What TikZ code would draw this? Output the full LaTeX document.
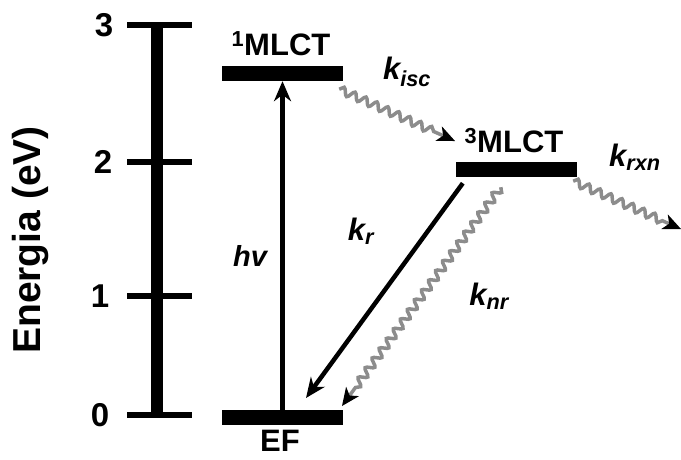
\documentclass[tikz,border=0pt]{standalone}
\usepackage{fontspec}
\setmainfont{Liberation Sans}
\usetikzlibrary{arrows.meta,decorations.pathmorphing,calc}
\begin{document}
\begin{tikzpicture}[x=1pt,y=-1pt,
  level/.style={fill=black,inner sep=0pt,minimum width=121pt,minimum height=15pt},
  lvllabel/.style={font=\fontsize{31}{31}\selectfont\bfseries,inner sep=0pt},
  ratelabel/.style={font=\fontsize{31}{31}\selectfont\bfseries\itshape,inner sep=0pt},
  ticklab/.style={font=\fontsize{33}{33}\selectfont\bfseries,inner sep=0pt},
  axisline/.style={line width=12pt},
  tickline/.style={line width=6pt},
  straightarrow/.style={line width=4.5pt,-{Stealth[length=20pt,width=17pt]}},
  wavybody/.style={draw=black!45,line width=3.5pt,
    decorate,decoration={snake,amplitude=3.8pt,segment length=12pt,post length=5pt}},
  wavytip/.style={fill=black}
]
\useasboundingbox (0,0) rectangle (681,459);
% axis
\coordinate (atop) at (156.5,25);
\coordinate (abot) at (156.5,415);
\draw[axisline] (atop) -- (abot);
\foreach \yy/\lab/\lx [count=\i] in {25/3/104,162/2/103,296/1/100,415/0/100}{
  \coordinate (tl\i) at (127,\yy);
  \coordinate (tr\i) at (192,\yy);
  \draw[tickline] (tl\i) -- (tr\i);
  \node[ticklab] (n\i) at (\lx,\yy) {\lab};
}
\node[rotate=90,font=\fontsize{39}{39}\selectfont\bfseries,inner sep=0pt] (ylab) at (31,240) {Energia (eV)};
% levels
\node[level] (s1) at (282.5,73.5) {};
\node[level] (t1) at (516.5,169.5) {};
\node[level] (ef) at (282.5,417.5) {};
\node[lvllabel] (s1l) at (281,44) {\textsuperscript{1}MLCT};
\node[lvllabel] (t1l) at (514,141) {\textsuperscript{3}MLCT};
\node[lvllabel] (efl) at (280,441) {EF};
% arrows
\draw[straightarrow] (ef.north) -- (s1.south);
\coordinate (krs) at ($(t1.south west)+(7,6)$);
\coordinate (kre) at (306,398);
\draw[straightarrow] (krs) -- (kre);
\coordinate (knrs) at ($(t1.south west)+(45,10)$);
\coordinate (kiscs) at ($(s1.south east)+(-4,8)$);
\coordinate (krxns) at ($(t1.south east)+(-4,4)$);
\coordinate (knre) at (342,406);
\coordinate (kisce) at (455,141);
\coordinate (krxne) at (681,229);
\foreach \a in {knr,kisc,krxn}{
  \coordinate (\a m) at ($(\a e)!13pt!(\a s)$);
  \coordinate (\a b) at ($(\a e)!18pt!(\a s)$);
  \coordinate (\a l) at ($(\a b)!8pt!90:(\a e)$);
  \coordinate (\a r) at ($(\a b)!8pt!-90:(\a e)$);
  \draw[wavybody] (\a s) -- (\a m);
  \fill[wavytip] (\a e) -- (\a l) -- (\a m) -- (\a r) -- cycle;
}
% labels
\node[font=\fontsize{29}{29}\selectfont\bfseries\itshape,inner sep=0pt] (hv) at (250,256) {hv};
\node[ratelabel] (kr) at (361,231) {k\textsubscript{r}};
\node[ratelabel] (knr) at (489,296) {k\textsubscript{nr}};
\node[ratelabel] (kisc) at (407,72) {k\textsubscript{isc}};
\node[ratelabel] (krxn) at (635,157) {k\textsubscript{rxn}};
\end{tikzpicture}
\end{document}
